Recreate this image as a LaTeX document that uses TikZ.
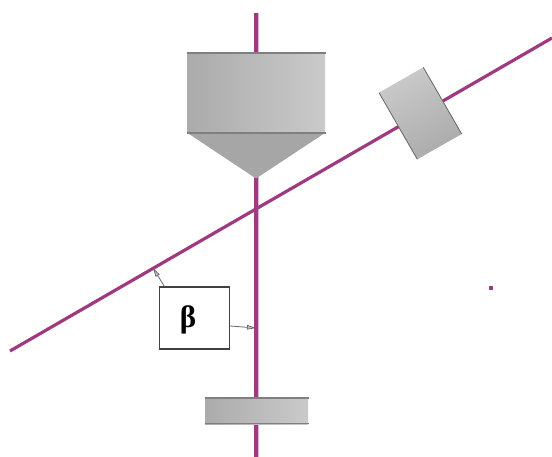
\documentclass[tikz,border=0pt]{standalone}
\usepackage{fontspec}
\setmainfont{Liberation Serif}
\usetikzlibrary{arrows.meta}
\definecolor{beam}{HTML}{A03A80}
\definecolor{halo}{HTML}{DDB5D0}
\definecolor{bodyL}{HTML}{ABABAB}
\definecolor{bodyR}{HTML}{CACACA}
\definecolor{edgeG}{HTML}{7F7F7F}
\tikzset{
  halobeam/.style={draw=halo,line width=5pt},
  beamline/.style={draw=beam,line width=3.2pt},
  bodyshade/.style={left color=bodyL,right color=bodyR},
  edgeline/.style={draw=edgeG,line width=1.6pt},
  leader/.style={draw=black!60,line width=.8pt,-{Stealth[length=9pt,width=4.5pt,inset=0pt,fill=black!25,line width=.7pt]}},
}
\begin{document}
\begin{tikzpicture}[x=1pt,y=-1pt]
\useasboundingbox (0,0) rectangle (552,457);
\coordinate (vt) at (256,13);
\coordinate (vb) at (256,457);
\coordinate (sl) at (10,351);
\coordinate (sr) at (552,38);
\coordinate (hit1) at (153,268);
\coordinate (hit2) at (256,328);
\path[halobeam] (vt) -- (vb);
\path[beamline] (vt) -- (vb);
\path[beamline] (sl) -- (sr);
% upper body
\shade[bodyshade] (187.5,53) rectangle (325,133);
\fill[black!35] (187.5,133) -- (325,133) -- (256,178.5) -- cycle;
\draw[edgeline] (187,53) -- (325.5,53);
\draw[edgeline] (187,133) -- (325.5,133);
% tilted block
\shade[top color=bodyR,bottom color=bodyL,shading angle=30]
  (423.3,67.3) -- (379,92.7) -- (417.3,159.3) -- (461.7,134) -- cycle;
\draw[draw=black!60,line width=.8pt] (379,92.7) -- (417.3,159.3);
\draw[draw=black!60,line width=.8pt] (423.3,67.3) -- (461.7,134);
% lower plate
\shade[bodyshade] (205,398) rectangle (308,424);
\draw[edgeline] (204.5,398) -- (308.5,398);
\draw[edgeline] (204.5,423.5) -- (308.5,423.5);
% dot
\node[fill=beam,inner sep=0pt,minimum size=3.5pt] (dot) at (491,288) {};
% label box
\node[draw=black!75,line width=1.1pt,fill=white,minimum width=70pt,minimum height=62pt,inner sep=0pt] (lab) at (194.5,318) {};
\node[inner sep=0pt,font=\fontsize{31}{31}\selectfont\bfseries] (sym) at (188,319.5) {β};
\path[leader] (lab.north west) ++(5.5,0) -- (hit1);
\path[leader] (lab.east) ++(0,8) -- (hit2);
\end{tikzpicture}
\end{document}
